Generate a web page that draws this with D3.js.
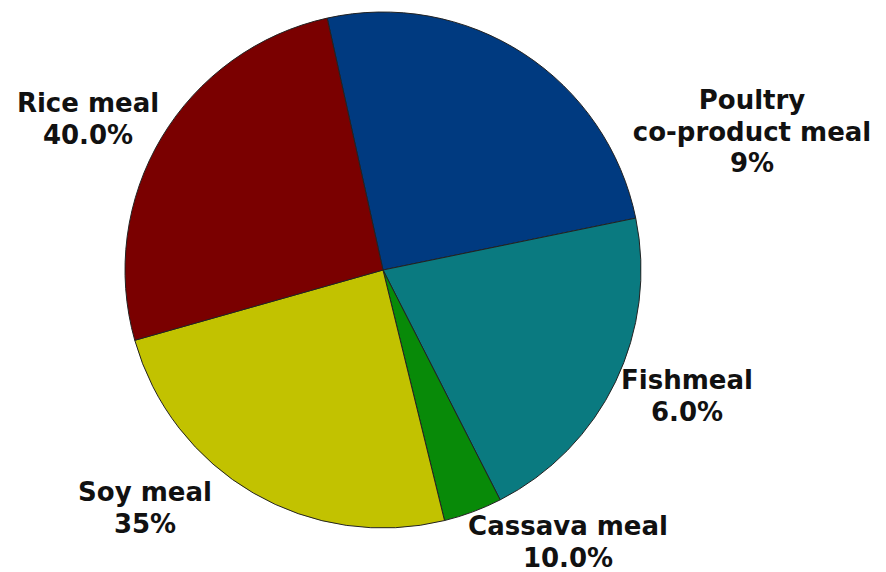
<!DOCTYPE html>
<html><head><meta charset="utf-8">
<script src="https://cdn.jsdelivr.net/npm/d3@7"></script>
<style>body{margin:0;background:#fff}svg{display:block}</style>
</head><body>
<script>
const categories = ["Poultry co-product meal","Fishmeal","Cassava meal","Soy meal","Rice meal"];
const sliceValues = [25.25, 20.72, 3.67, 24.44, 25.92];
const labelLines = [["Poultry","co-product meal","9%"],["Fishmeal","6.0%"],["Cassava meal","10.0%"],["Soy meal","35%"],["Rice meal","40.0%"]];
const colors = ["#003a80","#0a7a80","#088a08","#c2c200","#7a0000"];

const W=886,H=572, cx=383, cy=270, R=258;
const startDeg=-12.5;
// label centers (layout), relative to pie center
const labelPos = [[369,-161],[304,119],[185,265],[-238,231],[-295,-158]];

const svg=d3.select("body").append("svg").attr("width",W).attr("height",H);
const g=svg.append("g").attr("transform",`translate(${cx},${cy})`);
const pie=d3.pie().sort(null).value(d=>d).startAngle(startDeg*Math.PI/180).endAngle(startDeg*Math.PI/180+2*Math.PI);
const arc=d3.arc().innerRadius(0).outerRadius(R);
g.selectAll("path").data(pie(sliceValues)).join("path")
 .attr("d",arc).attr("fill",(d,i)=>colors[i]).attr("stroke","#222").attr("stroke-width",1);

const lh=31.5;
labelLines.forEach((lines,i)=>{
  const t=g.append("text").attr("text-anchor","middle")
    .attr("font-family","DejaVu Sans, Verdana, sans-serif").attr("font-weight","bold")
    .attr("font-size",26).attr("fill","#111");
  lines.forEach((l,j)=>{
    t.append("tspan").attr("x",labelPos[i][0]).attr("y",labelPos[i][1]+j*lh).text(l);
  });
});
</script>
</body></html>
